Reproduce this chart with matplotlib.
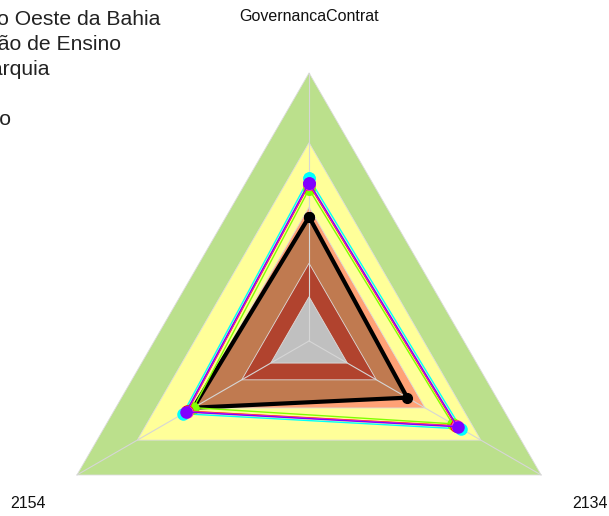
import numpy as np
import matplotlib
matplotlib.use("Agg")
import matplotlib.pyplot as plt

plt.rcParams["font.family"] = ["Liberation Sans", "DejaVu Sans"]

# axes of the radar, clockwise from the top
axis_labels = ["GovernancaContrat", "2154", "2134"]

# reference bands (outer -> inner), scale 0..100
band_levels = [100, 74, 50, 29, 16.5]
band_colors = ["#bbe08c", "#ffff99", "#ffa176", "#b1432e", "#c0c0c0"]

# series values (GovernancaContrat, 2154, 2134)
black_vals = [46.3, 49.8, 42.3]
cyan_vals = [60.7, 54.3, 65.6]
lime_vals = [56.6, 49.8, 61.8]
red_vals = [58.4, 52.4, 63.3]
pink_vals = [58.7, 52.7, 63.6]
purple_vals = [59.1, 53.0, 64.0]

legend_lines = [
    "Universidade Federal do Oeste da Bahia",
    "Instituição de Ensino",
    "Autarquia",
    "",
    "Poder Executivo",
]

angles = np.deg2rad([90, 210, 330])


def to_xy(vals):
    vals = np.asarray(vals, dtype=float)
    x = vals * np.cos(angles)
    y = vals * np.sin(angles)
    return np.append(x, x[0]), np.append(y, y[0])


def band(ax, level, color, z):
    x, y = to_xy([level] * 3)
    ax.fill(x, y, color=color, lw=0.6, ec="#dcdcdc", zorder=z)


fig = plt.figure(figsize=(6.09, 5.16), dpi=100)
ax = fig.add_axes([0, 0, 1, 1])
ax.set_xlim(-115.3, 111.9)
ax.set_ylim(-65.3, 127.2)
ax.set_aspect("equal")
ax.axis("off")

# outer bands
for lvl, col in zip(band_levels[:3], band_colors[:3]):
    band(ax, lvl, col, 1)

# area of the main series
bx, by = to_xy(black_vals)
ax.fill(bx, by, color="#c07a50", lw=0, zorder=2)

# inner bands
for lvl, col in zip(band_levels[3:], band_colors[3:]):
    band(ax, lvl, col, 3)

# spokes
for a in angles:
    ax.plot([0, 100 * np.cos(a)], [0, 100 * np.sin(a)], color="#d6d6d6", lw=0.8, zorder=4)

ax.plot(bx, by, color="black", lw=3, marker="o", ms=7, zorder=5)

series = [
    (cyan_vals, "#00ffff"),
    (lime_vals, "#80ff00"),
    (red_vals, "#ff0000"),
    (pink_vals, "#ff40c0"),
    (purple_vals, "#8000ff"),
]
for i, (vals, col) in enumerate(series):
    x, y = to_xy(vals)
    ax.plot(x, y, color=col, lw=1.0, marker="o", ms=8, zorder=6 + i)

for lab, a in zip(axis_labels, angles):
    ax.text(121 * np.cos(a), 121 * np.sin(a), lab, ha="center", va="center",
            fontsize=11.5, color="#111111")

ends = [160, 121, 50, 0, 11]
for i, (line, xe) in enumerate(zip(legend_lines, ends)):
    if not line:
        continue
    fig.text(xe / 609, 1 - (25 + 25 * i) / 516, line, ha="right", va="baseline",
             fontsize=15.2, color="#222222")

plt.savefig("out.png", dpi=100)
plt.close()
